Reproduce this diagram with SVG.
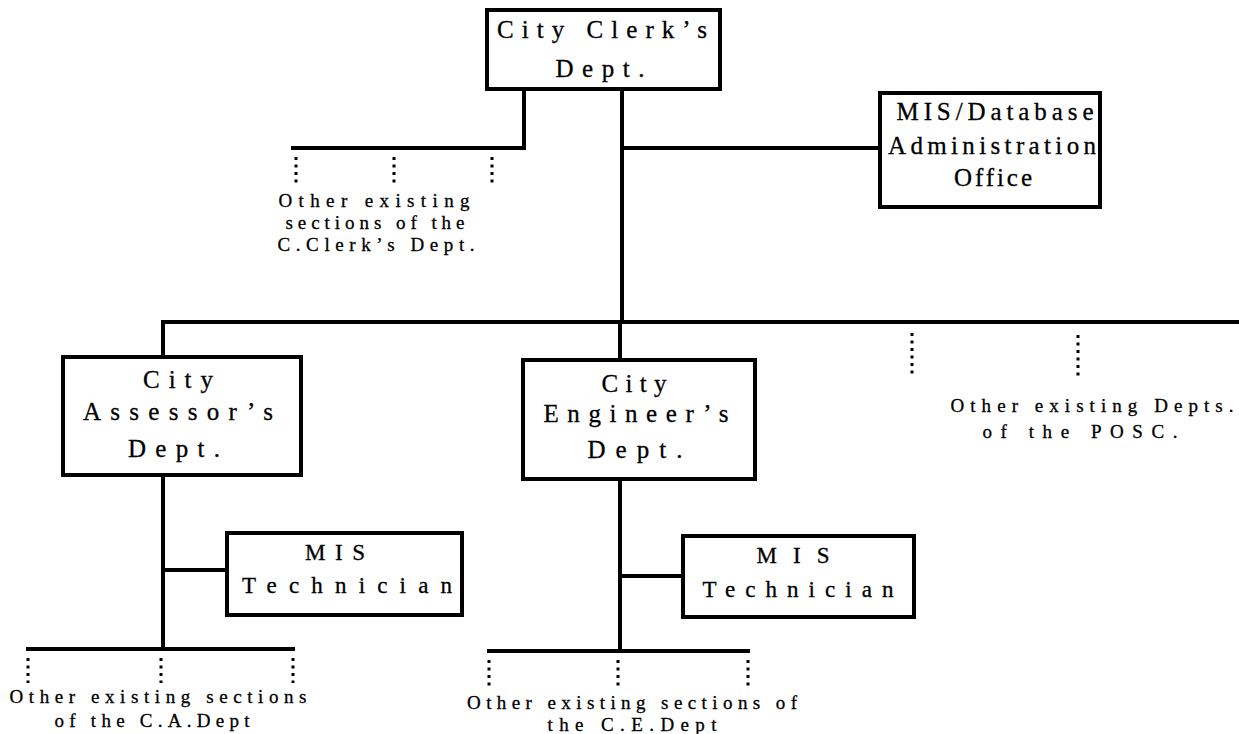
<svg xmlns="http://www.w3.org/2000/svg" width="1239" height="734" viewBox="0 0 1239 734">
<style>
.box{fill:#fff;stroke:#000;stroke-width:4}
.ln{fill:none;stroke:#000;stroke-width:4;stroke-linecap:square}
.dot{fill:none;stroke:#000;stroke-width:3;stroke-dasharray:3 4.5}
.t{font-family:"Liberation Serif","Times New Roman","DejaVu Serif",serif;fill:#000;text-anchor:middle;stroke:#000;stroke-width:0.3}
.big{font-size:25px}
.mid{font-size:23px}
.sm{font-size:19px}
</style>
<rect width="1239" height="734" fill="#fff"/>
<g id="connectors">
<polyline class="ln" points="524,90 524,148 293,148"/>
<line class="ln" x1="622" y1="90" x2="622" y2="322"/>
<line class="ln" x1="622" y1="148" x2="880" y2="148"/>
<line class="ln" x1="163" y1="322" x2="1239" y2="322"/>
<line class="ln" x1="163" y1="322" x2="163" y2="357"/>
<line class="ln" x1="620" y1="322" x2="620" y2="360"/>
<line class="ln" x1="163" y1="476" x2="163" y2="649"/>
<line class="ln" x1="163" y1="570" x2="226" y2="570"/>
<line class="ln" x1="28" y1="649" x2="293" y2="649"/>
<line class="ln" x1="620" y1="480" x2="620" y2="651"/>
<line class="ln" x1="620" y1="576" x2="682" y2="576"/>
<line class="ln" x1="489" y1="651" x2="748" y2="651"/>
<line class="dot" x1="296" y1="157" x2="296" y2="184"/>
<line class="dot" x1="394" y1="157" x2="394" y2="184"/>
<line class="dot" x1="492" y1="157" x2="492" y2="184"/>
<line class="dot" x1="912" y1="333" x2="912" y2="377"/>
<line class="dot" x1="1078" y1="335" x2="1078" y2="379"/>
<line class="dot" x1="28" y1="658" x2="28" y2="683"/>
<line class="dot" x1="161" y1="658" x2="161" y2="683"/>
<line class="dot" x1="293" y1="658" x2="293" y2="683"/>
<line class="dot" x1="489" y1="660" x2="489" y2="686"/>
<line class="dot" x1="618" y1="660" x2="618" y2="686"/>
<line class="dot" x1="748" y1="660" x2="748" y2="686"/>
</g>
<g id="clerk">
<rect class="box" x="487" y="10" width="233" height="79"/>
<text class="t big" x="602" y="38" textLength="210" lengthAdjust="spacing">City Clerk’s</text>
<text class="t big" x="600" y="77" textLength="89" lengthAdjust="spacing">Dept.</text>
</g>
<g id="mis-db">
<rect class="box" x="880" y="93" width="220" height="114"/>
<text class="t big" x="995" y="120" textLength="197" lengthAdjust="spacing">MIS/Database</text>
<text class="t big" x="992" y="154" textLength="208" lengthAdjust="spacing">Administration</text>
<text class="t big" x="993" y="186" textLength="78" lengthAdjust="spacing">Office</text>
</g>
<g id="clerk-other">
<text class="t sm" x="374" y="207" textLength="191" lengthAdjust="spacing">Other existing</text>
<text class="t sm" x="375" y="229" textLength="179" lengthAdjust="spacing">sections of the</text>
<text class="t sm" x="376" y="251" textLength="197" lengthAdjust="spacing">C.Clerk’s Dept.</text>
</g>
<g id="assessor">
<rect class="box" x="63" y="357" width="238" height="118"/>
<text class="t big" x="178" y="388" textLength="70" lengthAdjust="spacing">City</text>
<text class="t big" x="178" y="420" textLength="190" lengthAdjust="spacing">Assessor’s</text>
<text class="t big" x="174" y="457" textLength="92" lengthAdjust="spacing">Dept.</text>
</g>
<g id="engineer">
<rect class="box" x="523" y="360" width="232" height="119"/>
<text class="t big" x="634" y="392" textLength="65" lengthAdjust="spacing">City</text>
<text class="t big" x="636" y="422" textLength="185" lengthAdjust="spacing">Engineer’s</text>
<text class="t big" x="635" y="458" textLength="95" lengthAdjust="spacing">Dept.</text>
</g>
<g id="other-depts">
<text class="t sm" x="1092" y="412" textLength="283" lengthAdjust="spacing">Other existing Depts.</text>
<text class="t sm" x="1080" y="438" textLength="195" lengthAdjust="spacing">of the POSC.</text>
</g>
<g id="mis-tech-a">
<rect class="box" x="227" y="533" width="235" height="82"/>
<text class="t mid" x="335" y="560" textLength="60" lengthAdjust="spacing">MIS</text>
<text class="t mid" x="347" y="593" textLength="210" lengthAdjust="spacing">Technician</text>
</g>
<g id="mis-tech-e">
<rect class="box" x="683" y="536" width="231" height="81"/>
<text class="t mid" x="793" y="563" textLength="73" lengthAdjust="spacing">MIS</text>
<text class="t mid" x="798" y="597" textLength="191" lengthAdjust="spacing">Technician</text>
</g>
<g id="ca-other">
<text class="t sm" x="158" y="703" textLength="297" lengthAdjust="spacing">Other existing sections</text>
<text class="t sm" x="152" y="727" textLength="195" lengthAdjust="spacing">of the C.A.Dept</text>
</g>
<g id="ce-other">
<text class="t sm" x="632" y="709" textLength="330" lengthAdjust="spacing">Other existing sections of</text>
<text class="t sm" x="632" y="731" textLength="169" lengthAdjust="spacing">the C.E.Dept</text>
</g>
</svg>
